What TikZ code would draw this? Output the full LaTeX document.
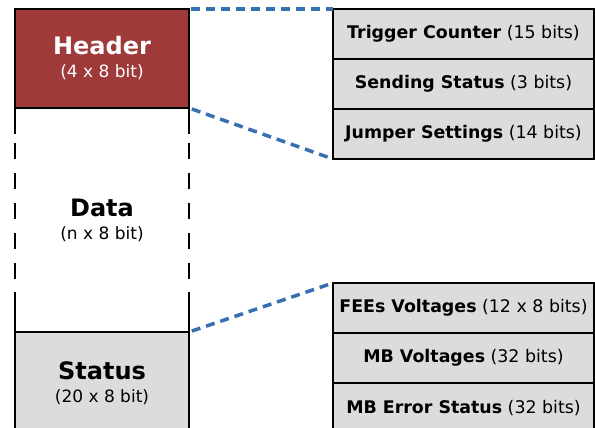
\documentclass[tikz,border=0pt]{standalone}
\usepackage{fontspec}
\setmainfont{DejaVu Sans}
\usepackage{tikz}
\usetikzlibrary{positioning}
\definecolor{hdrred}{RGB}{158,58,58}
\definecolor{boxgray}{RGB}{220,220,220}
\definecolor{linkblue}{RGB}{55,112,176}
\newcommand{\blocktext}[2]{{\fontsize{24}{23}\selectfont\bfseries #1}\\(#2)}

\begin{document}
\begin{tikzpicture}[x=1pt,y=-1pt]
\tikzstyle{block}=[rectangle,draw,line width=2.8pt,minimum width=174pt,inner sep=0pt,outer sep=0pt,align=center,font=\fontsize{17}{23}\selectfont]
\tikzstyle{field}=[rectangle,draw,fill=boxgray,line width=2.8pt,minimum width=261pt,minimum height=50pt,inner sep=0pt,outer sep=0pt,font=\fontsize{17.4}{20}\selectfont]
\tikzstyle{link}=[linkblue,line width=3.5pt,dash pattern=on 9pt off 6pt]
\tikzstyle{side}=[line width=2.8pt]
\clip (0,0) rectangle (595,428);

% packet blocks
\node[block,fill=hdrred,text=white,minimum height=99pt] (header) at (102,58.5) {\blocktext{Header}{4 x 8 bit}};
\node[block,draw=none,minimum height=224pt] (data) at (102,220) {\blocktext{Data}{n x 8 bit}};
\node[block,fill=boxgray,minimum height=102pt] (status) at (102,383) {\blocktext{Status}{20 x 8 bit}};

% dashed sides of the data block
\draw[side,dash pattern=on 16pt off 14pt,dash phase=25pt] (data.north west) -- (data.south west);
\draw[side,dash pattern=on 16pt off 14pt,dash phase=25pt] (data.north east) -- (data.south east);
\draw[side] (data.north west) -- ++(0,26) (data.south west) -- ++(0,-40);
\draw[side] (data.north east) -- ++(0,26) (data.south east) -- ++(0,-40);

% header fields
\node[field] (trig) at (463.5,34) {\textbf{Trigger Counter} (15 bits)};
\node[field,below=0pt of trig] (send) {\textbf{Sending Status} (3 bits)};
\node[field,below=0pt of send] (jump) {\textbf{Jumper Settings} (14 bits)};

% status fields
\node[field] (fees) at (463.5,308) {\textbf{FEEs Voltages} (12 x 8 bits)};
\node[field,below=0pt of fees] (mbv) {\textbf{MB Voltages} (32 bits)};
\node[field,below=0pt of mbv] (mberr) {\textbf{MB Error Status} (32 bits)};

\draw[link,shorten <=2pt] (header.north east) -- (trig.north west);
\draw[link,shorten <=3pt,shorten >=5pt] (header.south east) -- (jump.south west);
\draw[link,shorten <=3pt,shorten >=5pt] (status.north east) -- (fees.north west);
\end{tikzpicture}
\end{document}
